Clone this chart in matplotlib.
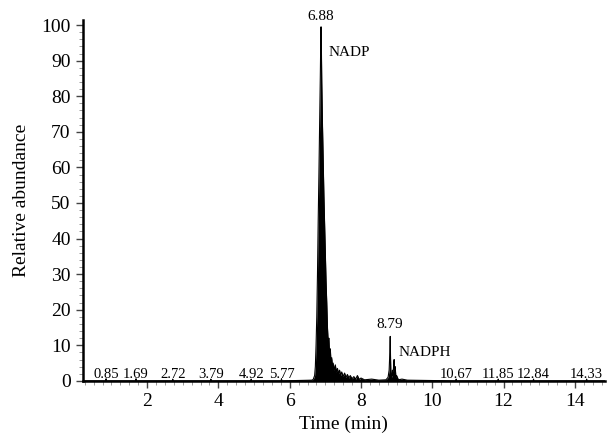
import numpy as np
import matplotlib
matplotlib.use("Agg")
import matplotlib.pyplot as plt
from matplotlib.ticker import MultipleLocator

plt.rcParams['font.family'] = ['Liberation Serif', 'DejaVu Serif']

# chromatogram trace (time in min, relative abundance)
trace_time = [0.19, 0.84, 0.85, 0.86, 1.68, 1.69, 1.70, 2.71, 2.72, 2.73,
              3.78, 3.79, 3.80, 4.91, 4.92, 4.93, 5.76, 5.77, 5.78,
              6.62, 6.66, 6.70, 6.72, 6.74, 6.76, 6.78, 6.80, 6.82, 6.84, 6.86,
              6.87, 6.88, 6.89, 6.90, 6.92, 6.94, 6.96, 6.98, 7.00, 7.02,
              7.04, 7.06, 7.08, 7.10, 7.12, 7.14, 7.16, 7.18, 7.20, 7.22,
              7.25, 7.28, 7.31, 7.34, 7.37, 7.40, 7.43, 7.46, 7.50, 7.54,
              7.58, 7.62, 7.66, 7.70, 7.75, 7.80, 7.85, 7.90, 7.95, 8.00,
              8.10, 8.30, 8.50, 8.70, 8.76, 8.79, 8.81, 8.82, 8.83, 8.84,
              8.86, 8.88, 8.90, 8.92, 8.93, 8.94, 8.96, 8.98, 9.00, 9.05,
              9.15, 9.30, 10.66, 10.67, 10.68, 11.84, 11.85, 11.86,
              12.83, 12.84, 12.85, 14.32, 14.33, 14.34, 14.85]
trace_abund = [0.0, 0.0, 0.6, 0.0, 0.0, 0.6, 0.0, 0.0, 0.5, 0.0,
               0.0, 0.5, 0.0, 0.0, 0.5, 0.0, 0.0, 0.6, 0.0,
               0.2, 0.4, 1.5, 4, 10, 18, 30, 45, 58, 72, 86,
               94, 99.5, 93, 84, 72, 62, 52, 44, 36, 28,
               22, 15, 11, 12, 7, 9, 5, 6.5, 4, 5,
               3, 4.5, 2.5, 3.5, 2, 3, 1.5, 2.5, 1.2, 2.2,
               1, 1.8, 0.8, 1.5, 0.6, 1.2, 0.5, 1.5, 0.4, 0.8,
               0.3, 0.5, 0.2, 0.3, 1, 3, 8, 12.5, 6, 1.5,
               1, 3, 1.5, 5, 6, 3, 4, 1, 1.5, 0.3,
               0.5, 0.2, 0.0, 0.5, 0.0, 0.0, 0.5, 0.0,
               0.0, 0.5, 0.0, 0.0, 0.5, 0.0, 0.0]

# small peak labels along the baseline
minor_peaks = [0.85, 1.69, 2.72, 3.79, 4.92, 5.77, 10.67, 11.85, 12.84, 14.33]

fig = plt.figure(figsize=(6.07, 4.46), dpi=100)
ax = fig.add_axes([0.136, 0.146, 0.861, 0.809])

ax.fill_between(trace_time, 0, trace_abund, color='black', lw=0)
ax.plot(trace_time, trace_abund, color='black', lw=0.8)

for t in minor_peaks:
    ax.text(t, 1.9, '%.2f' % t, ha='center', va='center', fontsize=10.5)

ax.text(6.88, 102.4, '6.88', ha='center', va='center', fontsize=11, clip_on=False)
ax.text(7.08, 92.4, 'NADP', ha='left', va='center', fontsize=11)
ax.text(8.81, 15.8, '8.79', ha='center', va='center', fontsize=11)
ax.text(9.06, 8.1, 'NADPH', ha='left', va='center', fontsize=11)

ax.set_xlim(0.19, 14.85)
ax.set_ylim(0, 101.4)
ax.xaxis.set_major_locator(MultipleLocator(2))
ax.xaxis.set_minor_locator(MultipleLocator(0.25))
ax.yaxis.set_major_locator(MultipleLocator(10))
ax.yaxis.set_minor_locator(MultipleLocator(2))

for s in ['top', 'right']:
    ax.spines[s].set_visible(False)
for s in ['left', 'bottom']:
    ax.spines[s].set_linewidth(1.8)

ax.tick_params(which='major', length=5, width=1, labelsize=14, color='#444444')
ax.tick_params(which='minor', length=3, width=0.6, color='#888888')

ax.set_xlabel('Time (min)', fontsize=14, labelpad=4)
ax.set_ylabel('Relative abundance', fontsize=14, labelpad=8)

fig.savefig('out.png', dpi=100)
